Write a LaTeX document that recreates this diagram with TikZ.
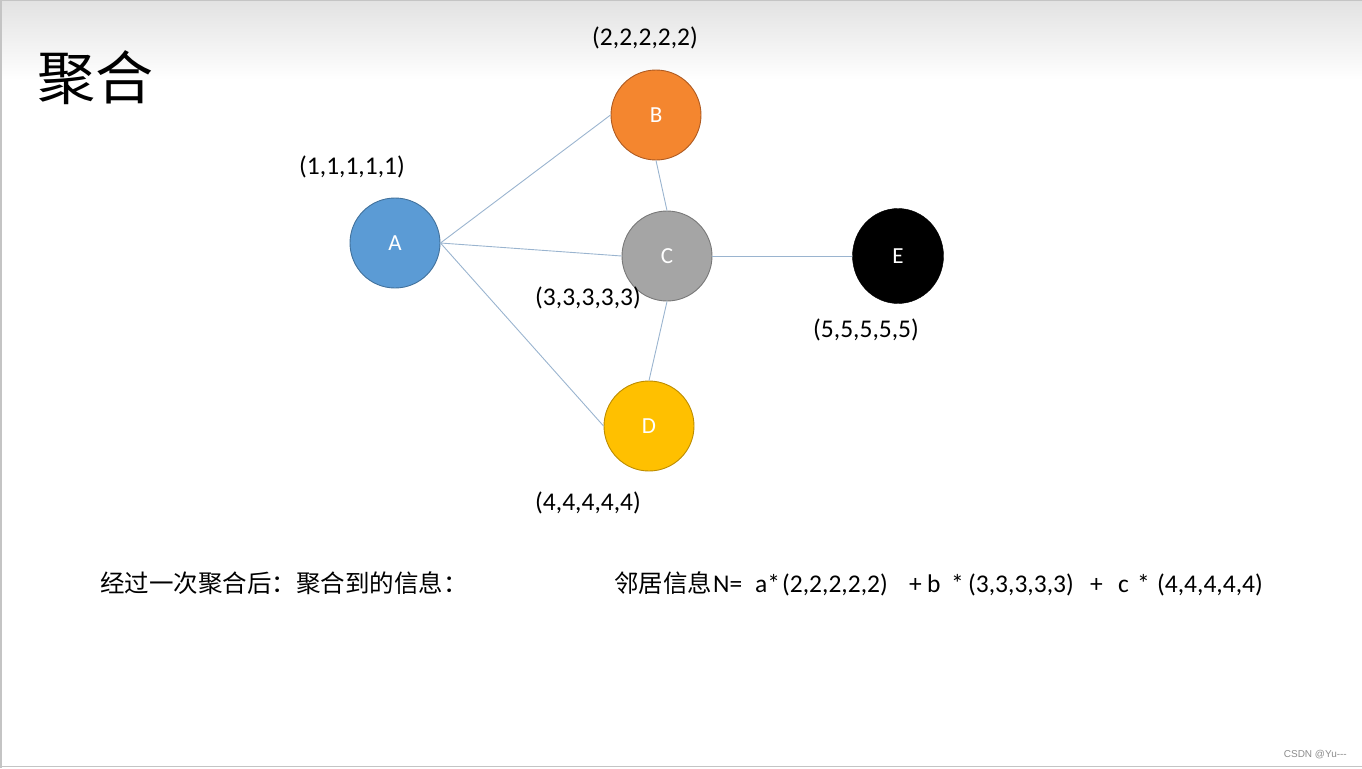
\documentclass[tikz,border=0pt]{standalone}
\usepackage{fontspec}
\usetikzlibrary{shapes.geometric}
\setmainfont{Carlito}
\newfontfamily\cjk{Noto Sans CJK SC}
\newfontfamily\wm{Liberation Sans}
\definecolor{topgray}{HTML}{E2E2E2}
\definecolor{framegray}{HTML}{C4C4C4}
\definecolor{edgeblue}{HTML}{9AB4CF}
\definecolor{aFill}{HTML}{5B9BD5}\definecolor{aLine}{HTML}{41719C}
\definecolor{bFill}{HTML}{F4862F}\definecolor{bLine}{HTML}{AE5A21}
\definecolor{cFill}{HTML}{A5A5A5}\definecolor{cLine}{HTML}{787878}
\definecolor{dFill}{HTML}{FFC000}\definecolor{dLine}{HTML}{BC8C00}
\definecolor{wmgray}{HTML}{8C8C8C}
\tikzset{
  vert/.style={circle, minimum size=90pt, inner sep=0pt, line width=0.9pt, text=white, font=\fontsize{23}{26}\selectfont},
  vec/.style={font=\fontsize{25.5}{30}\selectfont, inner sep=0pt},
  link/.style={draw=edgeblue, line width=0.9pt},
  cjktext/.style={font=\cjk\fontsize{24.5}{28}\selectfont, inner sep=0pt, anchor=base west},
  formula/.style={font=\fontsize{25.5}{30}\selectfont, inner sep=0pt, anchor=base west}
}
\begin{document}
\begin{tikzpicture}[x=1pt,y=-1pt]
\useasboundingbox (0,0) rectangle (1362,768);
\shade[top color=topgray, bottom color=white] (0,0) rectangle (1362,80);
\draw[framegray, line width=1.5pt] (0.75,768) -- (0.75,0.75) -- (1362,0.75);
\draw[framegray, line width=1.5pt] (0,766.5) -- (1362,766.5);
\node[font=\cjk\fontsize{58}{64}\selectfont, inner sep=0pt] (title) at (95,78) {聚合};

\node[vert, fill=aFill, draw=aLine] (A) at (395,243) {A};
\node[vert, fill=bFill, draw=bLine] (B) at (656,115) {B};
\node[vert, fill=cFill, draw=cLine] (C) at (667,256) {C};
\node[vert, fill=dFill, draw=dLine] (D) at (649,426) {D};
\node[ellipse, minimum width=91pt, minimum height=95pt, inner sep=0pt, fill=black, draw=black, text=white, font=\fontsize{23}{26}\selectfont] (E) at (898,256) {E};

\draw[link] (A.east) -- (B.west);
\draw[link] (A.east) -- (C.west);
\draw[link] (A.east) -- (D.west);
\draw[link] (B.south) -- (C.north);
\draw[link] (C.south) -- (D.north);
\draw[link] (C.east) -- (E.west);

\node[vec] (lb) at (645,38) {(2,2,2,2,2)};
\node[vec] (la) at (352,167) {(1,1,1,1,1)};
\node[vec] (lc) at (588,298) {(3,3,3,3,3)};
\node[vec] (le) at (866,330) {(5,5,5,5,5)};
\node[vec] (ld) at (588,503) {(4,4,4,4,4)};

\node[cjktext] (t1) at (100,592) {经过一次聚合后：聚合到的信息：};
\node[cjktext] (t2) at (614,592) {邻居信息};
\node[formula] (t3) at (713,592) {N=};
\node[formula] (t4) at (755,592) {a*};
\node[formula] (t5) at (782,592) {(2,2,2,2,2)};
\node[formula] (t6) at (909,592) {+};
\node[formula] (t7) at (927,592) {b};
\node[formula] (t8) at (951,592) {*};
\node[formula] (t9) at (968,592) {(3,3,3,3,3)};
\node[formula] (t10) at (1090,592) {+};
\node[formula] (t11) at (1118,592) {c};
\node[formula] (t12) at (1137,592) {*};
\node[formula] (t13) at (1157,592) {(4,4,4,4,4)};

\node[font=\wm\fontsize{10}{12}\selectfont, text=wmgray, anchor=base east, inner sep=0pt] (wm) at (1347,757) {CSDN @Yu---};
\end{tikzpicture}
\end{document}
